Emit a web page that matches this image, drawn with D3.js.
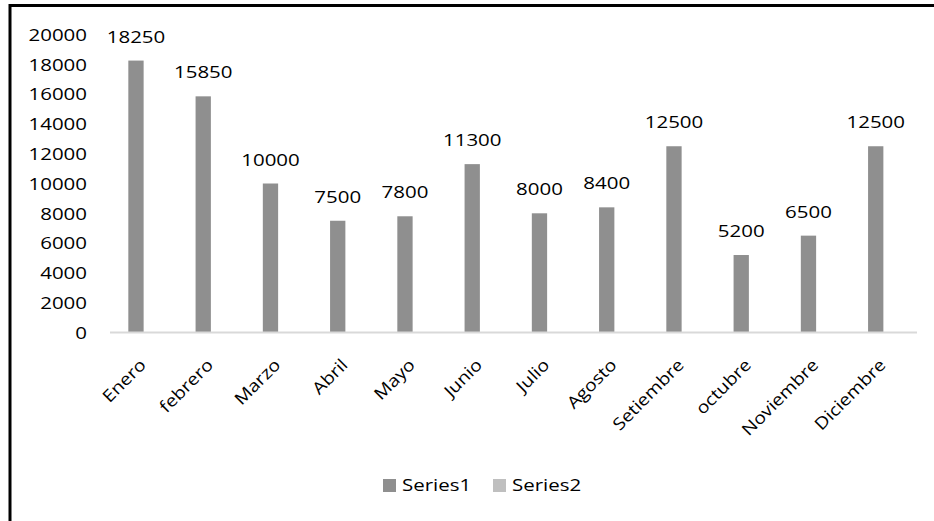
<!DOCTYPE html>
<html>
<head>
<meta charset="utf-8">
<script src="https://cdn.jsdelivr.net/npm/d3@7"></script>
<style>
html,body{margin:0;padding:0;background:#fff;}
svg{display:block;}
text{font-family:"Open Sans","Noto Sans",sans-serif;fill:#000;}
</style>
</head>
<body>
<svg id="chart" width="934" height="521"></svg>
<script>
const categories = ["Enero","febrero","Marzo","Abril","Mayo","Junio","Julio","Agosto","Setiembre","octubre","Noviembre","Diciembre"];
const series1 = [18250,15850,10000,7500,7800,11300,8000,8400,12500,5200,6500,12500];
const series2 = [null,null,null,null,null,null,null,null,null,null,null,null];
const seriesNames = ["Series1","Series2"];
const seriesColors = ["#8f8f8f","#bfbfbf"];
const yTicks = [0,2000,4000,6000,8000,10000,12000,14000,16000,18000,20000];

const svg = d3.select("#chart");
const W = 934, H = 521;
const FS = 16.8;
const SX = 1.22;   // horizontal stretch of upright text
const SXR = 1.15;  // stretch along baseline of rotated labels

// outer frame
svg.append("rect").attr("x",10).attr("y",5.5).attr("width",W+20).attr("height",H+20)
  .attr("fill","#fff").attr("stroke","#000").attr("stroke-width",3);

const plot = {left:110, right:917, top:34.5, bottom:332.5};

const x = d3.scaleBand().domain(categories).range([plot.left, plot.right]).paddingInner(0.545).paddingOuter(0.2725);
const xs = d3.scaleBand().domain(seriesNames).range([0, x.bandwidth()]);
const y = d3.scaleLinear().domain([0,20000]).range([plot.bottom, plot.top]);

// y axis labels
const yAxis = d3.axisLeft(y).tickValues(yTicks).tickSize(0).tickPadding(0).tickFormat(d3.format("d"));
const yg = svg.append("g").attr("transform",`translate(87,0)`).call(yAxis);
yg.select(".domain").remove();
yg.selectAll("text").attr("font-size",FS).attr("font-family",null).attr("fill","#000")
  .attr("x",0).attr("dy","0.35em").attr("transform",`scale(${SX},1)`);

// bars
const data = [series1, series2];
data.forEach((vals, si) => {
  svg.append("g").selectAll("rect")
    .data(vals.map((v,i)=>({c:categories[i], v})).filter(d=>d.v!=null))
    .join("rect")
    .attr("x", d => x(d.c) + xs(seriesNames[si]))
    .attr("width", xs.bandwidth())
    .attr("y", d => y(d.v))
    .attr("height", d => y(0) - y(d.v))
    .attr("fill", seriesColors[si]);
});

// baseline + category labels
const xAxis = d3.axisBottom(x).tickSize(0).tickPadding(0);
const xg = svg.append("g").attr("transform",`translate(0,${plot.bottom})`).call(xAxis);
xg.select(".domain").attr("stroke","#d9d9d9").attr("stroke-width",2).attr("d",`M${plot.left},0H${plot.right}`);
xg.selectAll(".tick text")
  .attr("font-size",FS).attr("font-family",null).attr("fill","#000")
  .attr("text-anchor","end")
  .attr("y",0).attr("x",0).attr("dy",null)
  .attr("transform",`translate(3.4,33.5) rotate(-45) scale(${SXR},1)`);

// data labels
svg.append("g").selectAll("text")
  .data(series1.map((v,i)=>({c:categories[i], v})))
  .join("text")
  .attr("transform", d => `translate(${x(d.c) + xs("Series1") + xs.bandwidth()/2},${y(d.v) - 18})scale(${SX},1)`)
  .attr("text-anchor","middle")
  .attr("font-size",FS)
  .text(d => d.v);

// legend
const lg = svg.append("g");
const legendX = [383, 493];
seriesNames.forEach((n,i)=>{
  lg.append("rect").attr("x",legendX[i]).attr("y",479).attr("width",13).attr("height",13).attr("fill",seriesColors[i]);
  lg.append("text").attr("transform",`translate(${legendX[i]+19},485.5)scale(${SX},1)`)
    .attr("dy","0.35em").attr("font-size",FS).text(n);
});
</script>
</body>
</html>
